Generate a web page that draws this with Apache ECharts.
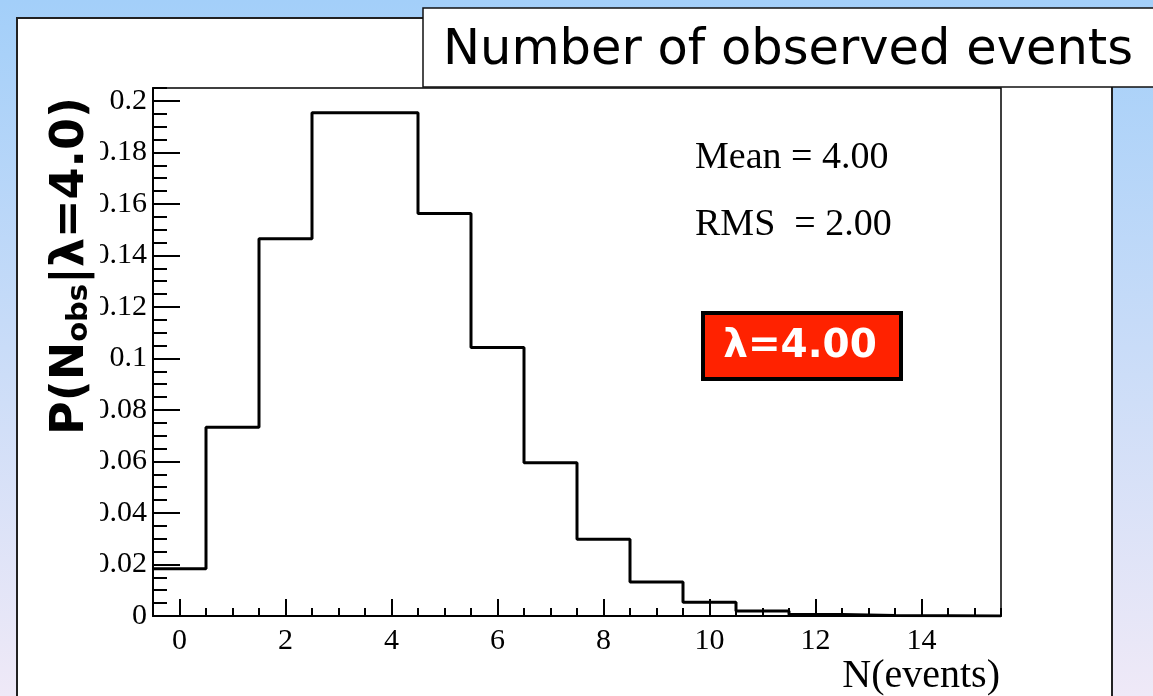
<!DOCTYPE html>
<html>
<head>
<meta charset="utf-8">
<script src="https://cdn.jsdelivr.net/npm/echarts@6/dist/echarts.min.js"></script>
<style>
    html, body { margin: 0; padding: 0; }
    #main { width: 1153px; height: 696px; }
</style>
</head>
<body>
<div id="main"></div>
<script>
// observed number of events (bin centres) and probability
const nObs = [0, 1, 2, 3, 4, 5, 6, 7, 8, 9, 10, 11, 12, 13, 14, 15];
const prob = [0.0183, 0.0733, 0.1465, 0.1954, 0.1954, 0.1563, 0.1042, 0.0595,
              0.0298, 0.0132, 0.0053, 0.0019, 0.0006, 0.0002, 0.0001, 0.0000];

const xMajorTicks = [0, 2, 4, 6, 8, 10, 12, 14];
const yMajorTicks = [0, 0.02, 0.04, 0.06, 0.08, 0.1, 0.12, 0.14, 0.16, 0.18, 0.2];

const statLines = ['Mean = 4.00', 'RMS  = 2.00'];
const lambdaText = 'λ=4.00';

// histogram as a step line through the bin low edges
const stepData = prob.map((p, i) => [nObs[i] - 0.5, p]);
stepData.push([nObs[nObs.length - 1] + 0.5, prob[prob.length - 1]]);

const myChart = echarts.init(document.getElementById('main'));

const option = {
    animation: false,
    backgroundColor: new echarts.graphic.LinearGradient(0, 0, 0, 1, [
        { offset: 0, color: '#a3cff9' },
        { offset: 1, color: '#efe9f7' }
    ]),
    grid: {
        left: 153, top: 88, right: 152, bottom: 80,
        show: true, borderColor: '#000', borderWidth: 1.5
    },
    xAxis: [
        {
            type: 'value', min: -0.5, max: 15.5, position: 'bottom',
            axisLine: { onZero: false, lineStyle: { color: '#000', width: 2 } },
            axisTick: { inside: true, length: 17, customValues: xMajorTicks, lineStyle: { color: '#000', width: 2 } },
            axisLabel: {
                customValues: xMajorTicks, margin: 10, color: '#000',
                fontFamily: 'Liberation Serif', fontSize: 30
            },
            splitLine: { show: false }
        },
        {
            type: 'value', min: -0.5, max: 15.5, interval: 0.5, position: 'bottom',
            axisLine: { show: false, onZero: false },
            axisTick: { inside: true, length: 8, lineStyle: { color: '#000', width: 2 } },
            axisLabel: { show: false },
            splitLine: { show: false }
        }
    ],
    yAxis: [
        {
            type: 'value', min: 0, max: 0.205, position: 'left',
            axisLine: { show: true, onZero: false, lineStyle: { color: '#000', width: 2 } },
            axisTick: { show: true, inside: true, length: 27, customValues: yMajorTicks, lineStyle: { color: '#000', width: 2 } },
            axisLabel: {
                customValues: yMajorTicks, margin: 6, color: '#000',
                fontFamily: 'Liberation Serif', fontSize: 30,
                formatter: v => String(Math.round(v * 1000) / 1000)
            },
            splitLine: { show: false }
        },
        {
            type: 'value', min: 0, max: 0.205, interval: 0.005, position: 'left',
            axisLine: { show: false, onZero: false },
            axisTick: { show: true, inside: true, length: 14, lineStyle: { color: '#000', width: 2 } },
            axisLabel: { show: false },
            splitLine: { show: false }
        }
    ],
    series: [{
        type: 'line',
        xAxisIndex: 0,
        yAxisIndex: 0,
        step: 'end',
        symbol: 'none',
        lineStyle: { color: '#000', width: 3 },
        data: stepData
    }],
    graphic: [
        // white slide panel
        {
            type: 'rect', z: -10, silent: true,
            shape: { x: 17, y: 18, width: 1095, height: 700 },
            style: { fill: '#fff', stroke: '#222', lineWidth: 2 }
        },
        // title box
        {
            type: 'rect', z: 50,
            shape: { x: 423, y: 8, width: 800, height: 79 },
            style: { fill: '#fff', stroke: '#111', lineWidth: 1.5 }
        },
        {
            type: 'text', z: 51, x: 443, y: 51,
            style: {
                text: 'Number of observed events', fill: '#000',
                font: '49.5px "DejaVu Sans"', verticalAlign: 'middle', align: 'left'
            }
        },
        // y axis title on white background (hides part of the tick labels)
        {
            type: 'rect', z: 50,
            shape: { x: 30, y: 90, width: 70, height: 500 },
            style: { fill: '#fff' }
        },
        {
            type: 'text', z: 51, x: 64, y: 266, rotation: Math.PI / 2,
            style: {
                text: '{b|P(N}{s|obs}{b||λ=4.0)}',
                align: 'center', verticalAlign: 'middle',
                rich: {
                    b: { fontFamily: 'DejaVu Sans', fontWeight: 'bold', fontSize: 46, fill: '#000', lineHeight: 60, verticalAlign: 'bottom' },
                    s: { fontFamily: 'DejaVu Sans', fontWeight: 'bold', fontSize: 29, fill: '#000', lineHeight: 26, verticalAlign: 'bottom' }
                }
            }
        },
        // statistics
        {
            type: 'text', z: 20, x: 695, y: 158,
            style: { text: statLines[0], fill: '#000', font: '38px "Liberation Serif"', verticalAlign: 'middle' }
        },
        {
            type: 'text', z: 20, x: 695, y: 225,
            style: { text: statLines[1], fill: '#000', font: '38px "Liberation Serif"', verticalAlign: 'middle' }
        },
        // lambda label
        {
            type: 'rect', z: 20,
            shape: { x: 703, y: 313, width: 198, height: 66 },
            style: { fill: '#ff2200', stroke: '#000', lineWidth: 4 }
        },
        {
            type: 'text', z: 21, x: 800, y: 347,
            style: {
                text: lambdaText, fill: '#fff', font: 'bold 39px "DejaVu Sans"',
                align: 'center', verticalAlign: 'middle'
            }
        },
        // x axis title
        {
            type: 'text', z: 20, x: 1000, y: 696,
            style: { text: 'N(events)', fill: '#000', font: '40px "Liberation Serif"', align: 'right', verticalAlign: 'bottom' }
        }
    ]
};

option && myChart.setOption(option);
</script>
</body>
</html>
